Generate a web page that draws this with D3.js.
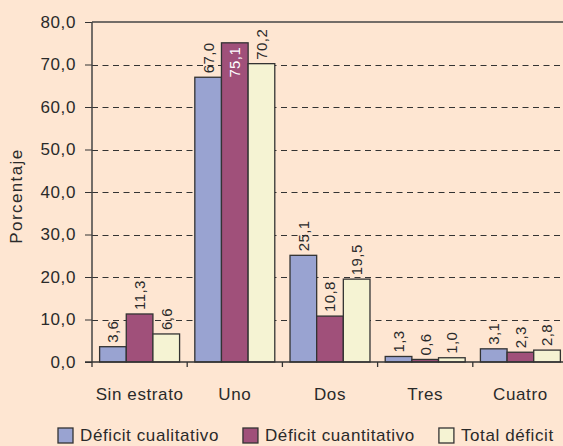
<!DOCTYPE html>
<html>
<head>
<meta charset="utf-8">
<style>
    body { margin: 0; background: #fee6d2; }
    svg { display: block; font-family: 'Liberation Sans', Arial, sans-serif; }
    .y .domain { display: none; }
    .y .tick line { stroke: #333; }
    .y .tick text { font-size: 17px; fill: #2a2a2a; letter-spacing: 0.6px; }
    .grid line { stroke: #333; stroke-dasharray: 6 4.5; }
    .value { font-size: 15px; letter-spacing: 0.4px; }
    .legend text { font-size: 17px; fill: #2a2a2a; letter-spacing: 0.6px; }
</style>
</head>
<body>
<svg width="563" height="446"></svg>
<script src="https://d3js.org/d3.v7.min.js"></script>
<script>
let categories = ["Sin estrato", "Uno", "Dos", "Tres", "Cuatro"]
let seriesNames = ["Déficit cualitativo", "Déficit cuantitativo", "Total déficit"]
let cualitativo = [3.6, 67.0, 25.1, 1.3, 3.1]
let cuantitativo = [11.3, 75.1, 10.8, 0.6, 2.3]
let total = [6.6, 70.2, 19.5, 1.0, 2.8]
let yTicks = [0, 10, 20, 30, 40, 50, 60, 70, 80]
let colors = ["#99a3d1", "#a0507a", "#f5f3d3"]

let allSeries = [cualitativo, cuantitativo, total]

let svg = d3.select("svg")
let margin = {top: 22, right: -5, bottom: 84, left: 92}
let width = 563, height = 446

let fmt = d => d.toFixed(1).replace(".", ",")

let x = d3.scaleBand()
    .domain(categories)
    .range([margin.left, width - margin.right])
    .padding(0)

let xInner = d3.scaleBand()
    .domain(d3.range(seriesNames.length))
    .range([x.bandwidth() * 0.08, x.bandwidth() * 0.92])
    .padding(0)

let y = d3.scaleLinear()
    .domain([0, 80])
    .range([height - margin.bottom, margin.top])

// dashed grid
svg.append("g")
    .attr("class", "grid")
    .selectAll("line")
    .data(yTicks.filter(d => d > 0 && d < 80))
    .join("line")
    .attr("x1", margin.left)
    .attr("x2", width)
    .attr("y1", d => Math.round(y(d)) + 0.5)
    .attr("y2", d => Math.round(y(d)) + 0.5)

// top border
svg.append("line")
    .attr("x1", margin.left).attr("x2", width)
    .attr("y1", y(80)).attr("y2", y(80))
    .attr("stroke", "#444").attr("stroke-width", 1.5)

let rows = categories.map((c, i) => ({cat: c, values: allSeries.map(s => s[i])}))

let groups = svg.append("g")
    .selectAll("g")
    .data(rows)
    .join("g")
    .attr("transform", d => `translate(${x(d.cat)},0)`)

groups.selectAll("rect")
    .data(d => d.values.map((v, j) => ({v, j})))
    .join("rect")
    .attr("x", d => xInner(d.j))
    .attr("y", d => y(d.v))
    .attr("width", xInner.bandwidth())
    .attr("height", d => y(0) - y(d.v))
    .attr("fill", d => colors[d.j])
    .attr("stroke", "#333")
    .attr("stroke-width", 1.3)

// value labels, rotated
groups.selectAll("text.value")
    .data(d => d.values.map((v, j) => ({v, j})))
    .join("text")
    .attr("class", "value")
    .text(d => fmt(d.v))
    .each(function (d) {
        let len = this.getComputedTextLength()
        let cx = xInner(d.j) + xInner.bandwidth() / 2
        let top = y(d.v)
        let inside = top - 4 - len < margin.top
        let t = d3.select(this)
            .attr("transform", `translate(${cx},${top}) rotate(-90)`)
            .attr("dy", "0.36em")
        if (inside) {
            t.attr("x", -4).attr("text-anchor", "end").attr("fill", "#fff")
        } else {
            t.attr("x", 4).attr("text-anchor", "start").attr("fill", "#2a2a2a")
        }
    })

// y axis
svg.append("g")
    .attr("class", "y axis")
    .attr("transform", `translate(${margin.left},0)`)
    .call(d3.axisLeft(y).tickValues(yTicks).tickSize(7).tickPadding(9).tickFormat(fmt))

svg.append("line")
    .attr("x1", margin.left).attr("x2", margin.left)
    .attr("y1", y(80)).attr("y2", y(0))
    .attr("stroke", "#444").attr("stroke-width", 1.5)

// x axis
let xAxis = svg.append("g")
    .attr("class", "x axis")
    .attr("transform", `translate(0,${y(0)})`)

xAxis.append("line")
    .attr("x1", margin.left - 7).attr("x2", width)
    .attr("stroke", "#333").attr("stroke-width", 1.5)

xAxis.selectAll(".sep")
    .data(categories)
    .join("line")
    .attr("class", "sep")
    .attr("x1", d => x(d)).attr("x2", d => x(d))
    .attr("y1", 0).attr("y2", 5)
    .attr("stroke", "#333").attr("stroke-width", 1.3)

xAxis.selectAll(".cat")
    .data(categories)
    .join("text")
    .attr("class", "cat")
    .attr("x", d => x(d) + x.bandwidth() / 2)
    .attr("y", 38)
    .attr("text-anchor", "middle")
    .style("font-size", "17px")
    .style("letter-spacing", "0.6px")
    .attr("fill", "#2a2a2a")
    .text(d => d)

// y title
svg.append("text")
    .attr("transform", `translate(22,${(y(0) + y(80)) / 2 + 4}) rotate(-90)`)
    .attr("text-anchor", "middle")
    .style("font-size", "17px")
    .style("letter-spacing", "1.4px")
    .attr("fill", "#2a2a2a")
    .text("Porcentaje")

// legend
let legend = svg.append("g").attr("class", "legend")
let lx = 58
seriesNames.forEach((name, i) => {
    legend.append("rect")
        .attr("x", lx).attr("y", 428)
        .attr("width", 15).attr("height", 15)
        .attr("fill", colors[i])
        .attr("stroke", "#333").attr("stroke-width", 1.3)
    let t = legend.append("text")
        .attr("x", lx + 22).attr("y", 441)
        .text(name)
    lx += 22 + t.node().getComputedTextLength() + 24
})
</script>
</body>
</html>
